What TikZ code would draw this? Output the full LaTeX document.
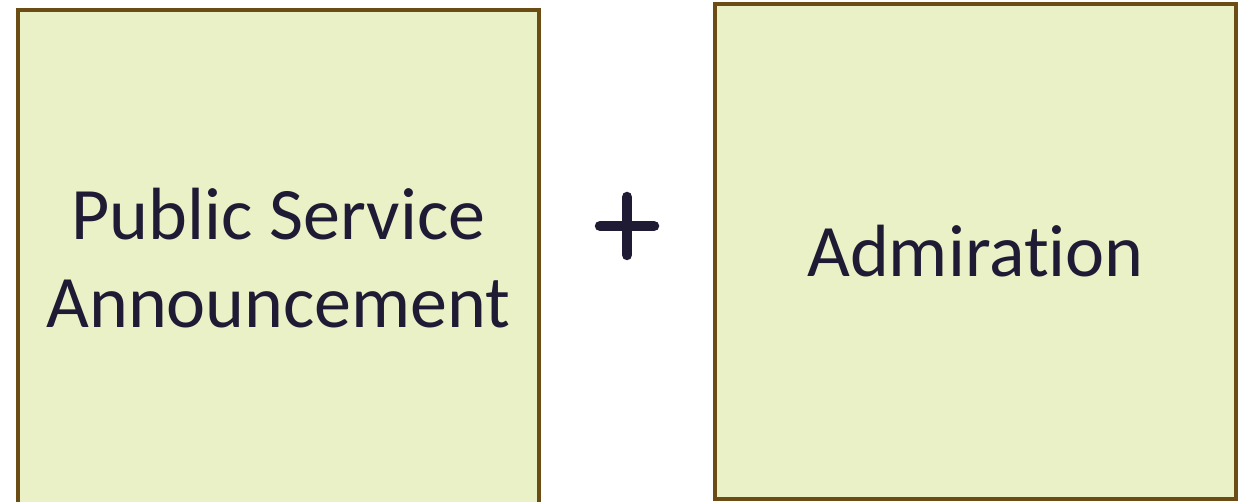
\documentclass[tikz,border=0pt]{standalone}
\usepackage{fontspec}
\setmainfont{Carlito}[Ligatures=NoCommon,RawFeature={-liga;-dlig}]
\definecolor{boxfill}{HTML}{EBF1C6}
\definecolor{boxline}{HTML}{6B4C14}
\definecolor{inkc}{HTML}{1F1B35}
\begin{document}
\begin{tikzpicture}[x=1pt,y=-1pt,
  panel/.style={draw=boxline,line width=4.5pt,fill=boxfill},
  label/.style={text=inkc,font=\fontsize{74}{88}\selectfont,anchor=base,inner sep=0pt},
  plusline/.style={draw=inkc,line width=10.5pt,line cap=round}]
\useasboundingbox (0,0) rectangle (1245,502);
\draw[panel] (18,10) rectangle (539,520);
\draw[panel] (715,4) rectangle (1236,499);
\node[label] (t1) at (278.5,240) {Public Service};
\node[label] (t2) at (278.5,328) {Announcement};
\node[label] (t3) at (975.5,277) {Admiration};
\coordinate (pl) at (600,226);
\coordinate (pr) at (654,226);
\coordinate (pt) at (627,197);
\coordinate (pb) at (627,255);
\draw[plusline] (pl) -- (pr);
\draw[plusline] (pt) -- (pb);
\end{tikzpicture}
\end{document}
